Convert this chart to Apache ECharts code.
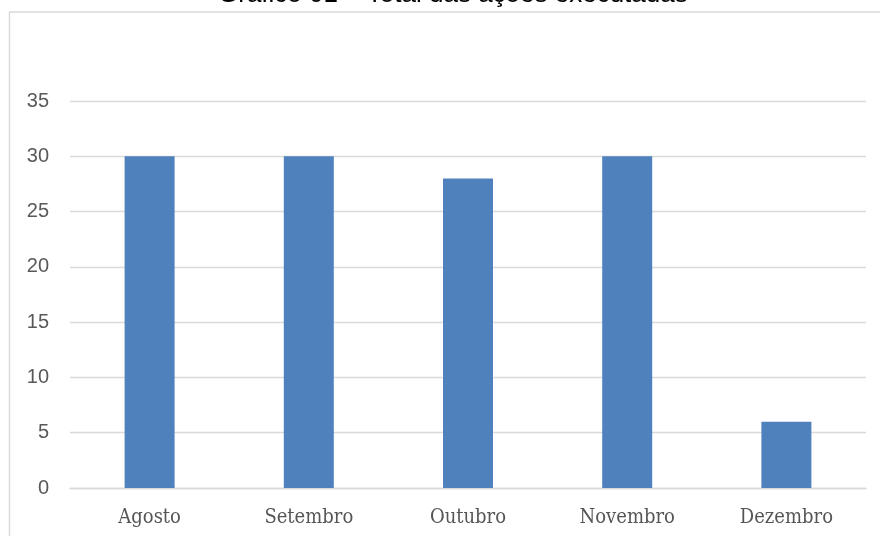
<!DOCTYPE html>
<html>
<head>
<meta charset="utf-8">
<script src="https://cdn.jsdelivr.net/npm/echarts@6/dist/echarts.min.js"></script>
<style>
html,body{margin:0;padding:0;background:#fff;}
#chart{width:880px;height:536px;}
</style>
</head>
<body>
<div id="chart"></div>
<script>
var titleText = 'Gráfico 01 – Total das ações executadas';
var categories = ['Agosto', 'Setembro', 'Outubro', 'Novembro', 'Dezembro'];
var values = [30, 30, 28, 30, 6];
var yMin = 0, yMax = 35, yInterval = 5;

var chart = echarts.init(document.getElementById('chart'), null, {renderer: 'canvas'});
chart.setOption({
  animation: false,
  backgroundColor: '#ffffff',
  graphic: [{
    type: 'rect',
    shape: {x: 9.5, y: 12, width: 900, height: 600},
    style: {fill: 'none', stroke: '#d9d9d9', lineWidth: 1.4},
    silent: true, z: -1
  }, {
    type: 'text',
    x: 218,
    y: 8,
    silent: true,
    style: {
      text: titleText,
      fill: '#000000',
      font: '26px "Liberation Sans", Arial, sans-serif',
      align: 'left',
      verticalAlign: 'bottom'
    }
  }],
  grid: {left: 70, right: 14, top: 101, bottom: 48},
  xAxis: {
    type: 'category',
    data: categories,
    axisLine: {show: true, lineStyle: {color: '#d9d9d9', width: 1.4}},
    axisTick: {show: false},
    axisLabel: {
      margin: 20,
      color: '#555555',
      fontSize: 20,
      fontFamily: '"DejaVu Serif Condensed", "DejaVu Serif", serif'
    }
  },
  yAxis: {
    type: 'value',
    min: yMin, max: yMax, interval: yInterval,
    axisLine: {show: false},
    axisTick: {show: false},
    splitLine: {lineStyle: {color: '#d9d9d9', width: 1.4}},
    axisLabel: {
      margin: 21,
      color: '#595959',
      fontSize: 20,
      fontFamily: 'Liberation Sans, Arial, sans-serif'
    }
  },
  series: [{
    type: 'bar',
    data: values,
    barWidth: 50,
    itemStyle: {color: '#4f81bd'}
  }]
});
</script>
</body>
</html>
